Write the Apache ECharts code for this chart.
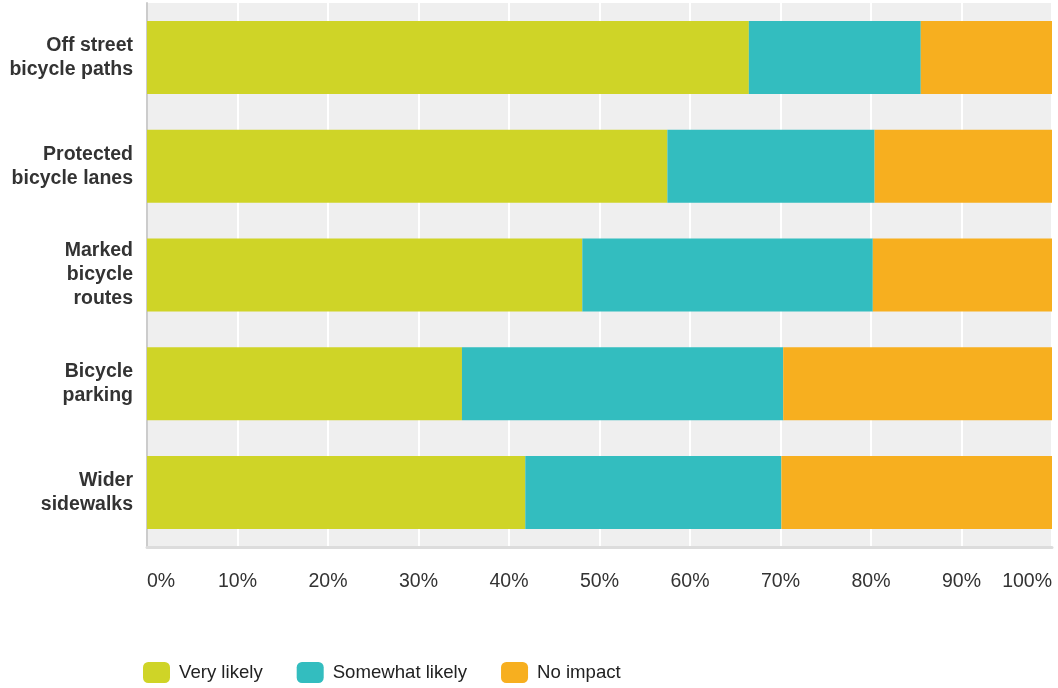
<!DOCTYPE html>
<html>
<head>
<meta charset="utf-8">
<script src="https://cdn.jsdelivr.net/npm/echarts@6/dist/echarts.min.js"></script>
<style>
  html, body { margin: 0; padding: 0; background: #fff; }
  #chart { width: 1058px; height: 688px; }
</style>
</head>
<body>
<div id="chart"></div>
<script>
// Infrastructure options and share of respondents (percent)
const categories = [
  'Off street\nbicycle paths',
  'Protected\nbicycle lanes',
  'Marked\nbicycle\nroutes',
  'Bicycle\nparking',
  'Wider\nsidewalks'
];
const veryLikely     = [66.5, 57.5, 48.1, 34.8, 41.8];
const somewhatLikely = [19.0, 22.9, 32.1, 35.5, 28.3];
const noImpact       = [14.5, 19.6, 19.8, 29.7, 29.9];

const seriesNames  = ['Very likely', 'Somewhat likely', 'No impact'];
const seriesColors = ['#cfd427', '#33bdbf', '#f7af1f'];
const seriesData   = [veryLikely, somewhatLikely, noImpact];

const chart = echarts.init(document.getElementById('chart'));

chart.setOption({
  animation: false,
  textStyle: { fontFamily: 'Liberation Sans, Arial, sans-serif' },
  grid: {
    left: 147, right: 6, top: 3, bottom: 141,
    show: true, backgroundColor: '#efefef', borderWidth: 0
  },
  legend: {
    left: 143, top: 662, padding: 0,
    itemWidth: 27, itemHeight: 21, itemGap: 34,
    icon: 'roundRect',
    textStyle: { fontSize: 18.6, color: '#222', padding: [0, 0, 0, 4] },
    data: seriesNames
  },
  xAxis: {
    type: 'value', min: 0, max: 100, interval: 10,
    axisLine: { show: true, lineStyle: { color: '#dcdcdc', width: 3 } },
    axisTick: { show: false },
    splitLine: { show: true, lineStyle: { color: '#ffffff', width: 2 } },
    axisLabel: {
      formatter: '{value}%', fontSize: 19.5, color: '#333', margin: 25,
      alignMinLabel: 'left', alignMaxLabel: 'right'
    }
  },
  yAxis: {
    type: 'category', inverse: true, data: categories,
    axisLine: { show: true, lineStyle: { color: '#cccccc', width: 2 } },
    axisTick: { show: false },
    axisLabel: {
      fontSize: 19.5, fontWeight: 'bold', color: '#333', lineHeight: 24, margin: 14
    }
  },
  series: seriesData.map((d, i) => ({
    name: seriesNames[i],
    type: 'bar',
    stack: 'total',
    barWidth: 73,
    itemStyle: { color: seriesColors[i] },
    data: d
  }))
});
</script>
</body>
</html>
